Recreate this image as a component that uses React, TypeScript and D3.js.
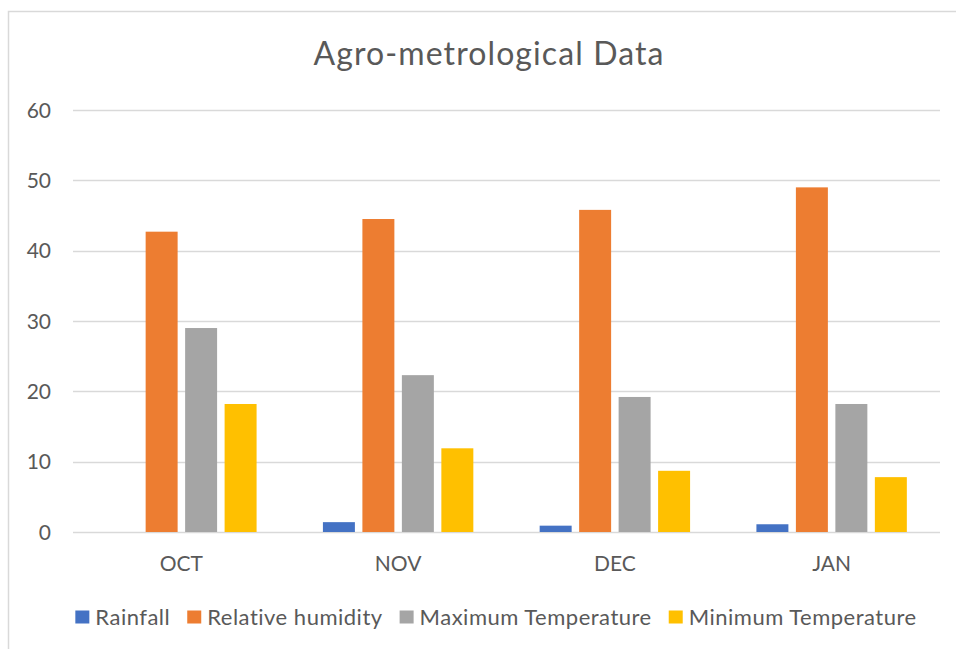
import React, { useEffect, useRef } from "react";
import * as d3 from "d3";

const months = ["OCT", "NOV", "DEC", "JAN"];
const seriesNames = ["Rainfall", "Relative humidity", "Maximum Temperature", "Minimum Temperature"];
const rainfall = [0, 1.4, 0.9, 1.1];
const humidity = [42.7, 44.5, 45.8, 49.0];
const maxTemp = [29.0, 22.3, 19.2, 18.2];
const minTemp = [18.2, 11.9, 8.7, 7.8];
const yTicks = [0, 10, 20, 30, 40, 50, 60];
const colors = ["#4472C4", "#ED7D31", "#A5A5A5", "#FFC000"];

const W = 956, H = 649;
const FONT = "Lato, 'Open Sans', sans-serif";

export default function App() {
  const ref = useRef<SVGSVGElement>(null);
  useEffect(() => {
    const svg = d3.select(ref.current);
    svg.selectAll("*").remove();
    const values = [rainfall, humidity, maxTemp, minTemp];
    const left = 73, right = 940, top = 110, bottom = 532;

    svg.append("rect").attr("x", 8.5).attr("y", 11.5).attr("width", 1000).attr("height", 1000)
      .attr("fill", "#fff").attr("stroke", "#d9d9d9").attr("stroke-width", 1.5);

    const x = d3.scaleBand<string>().domain(months).range([left, right]).paddingInner(0.306).paddingOuter(0.153);
    const xs = d3.scaleBand<string>().domain(seriesNames).range([0, x.bandwidth()]).paddingInner(0.19);
    const y = d3.scaleLinear().domain([0, 60]).range([bottom, top]);

    const g = svg.append("g");
    g.selectAll("line.grid").data(yTicks).enter().append("line")
      .attr("x1", left).attr("x2", right)
      .attr("y1", d => Math.round(y(d)) + 0.5).attr("y2", d => Math.round(y(d)) + 0.5)
      .attr("stroke", "#d9d9d9").attr("stroke-width", 1.5);

    g.selectAll("text.ytick").data(yTicks).enter().append("text")
      .attr("x", 51).attr("y", d => y(d)).attr("dy", "0.36em").attr("text-anchor", "end")
      .attr("font-family", FONT).attr("font-size", 21).attr("fill", "#595959").text(d => String(d));

    seriesNames.forEach((s, si) => {
      g.selectAll("rect.s" + si).data(months).enter().append("rect")
        .attr("x", m => (x(m) as number) + (xs(s) as number))
        .attr("width", xs.bandwidth())
        .attr("y", (m, i) => y(values[si][i]))
        .attr("height", (m, i) => y(0) - y(values[si][i]))
        .attr("fill", colors[si]);
    });

    g.selectAll("text.xtick").data(months).enter().append("text")
      .attr("x", m => (x(m) as number) + x.bandwidth() / 2).attr("y", 571)
      .attr("text-anchor", "middle")
      .attr("font-family", FONT).attr("font-size", 21).attr("fill", "#595959").text(m => m);

    svg.append("text").attr("x", 489).attr("y", 65).attr("text-anchor", "middle")
      .attr("font-family", FONT).attr("font-size", 32).attr("letter-spacing", 1.1)
      .attr("fill", "#595959").text("Agro-metrological Data");

    // legend
    const lg = svg.append("g");
    const items = lg.selectAll("g").data(seriesNames).enter().append("g");
    items.append("rect").attr("width", 14).attr("height", 13).attr("y", -6.5).attr("fill", (d, i) => colors[i]);
    const texts = items.append("text").attr("x", 20).attr("dy", "0.36em")
      .attr("font-family", FONT).attr("font-size", 22).attr("letter-spacing", 0.5)
      .attr("fill", "#595959").text(d => d);
    const widths: number[] = [];
    texts.each(function () { widths.push((this as SVGTextElement).getComputedTextLength()); });
    const gap = 17;
    const total = widths.reduce((a, w) => a + 20 + w, 0) + gap * (widths.length - 1);
    let cx = 496 - total / 2;
    items.each(function (d, i) {
      d3.select(this).attr("transform", `translate(${cx},617)`);
      cx += 20 + widths[i] + gap;
    });
  }, []);
  return (
    <svg ref={ref} width={W} height={H} style={{ position: "absolute", left: 0, top: 0, background: "#fff" }} />
  );
}
